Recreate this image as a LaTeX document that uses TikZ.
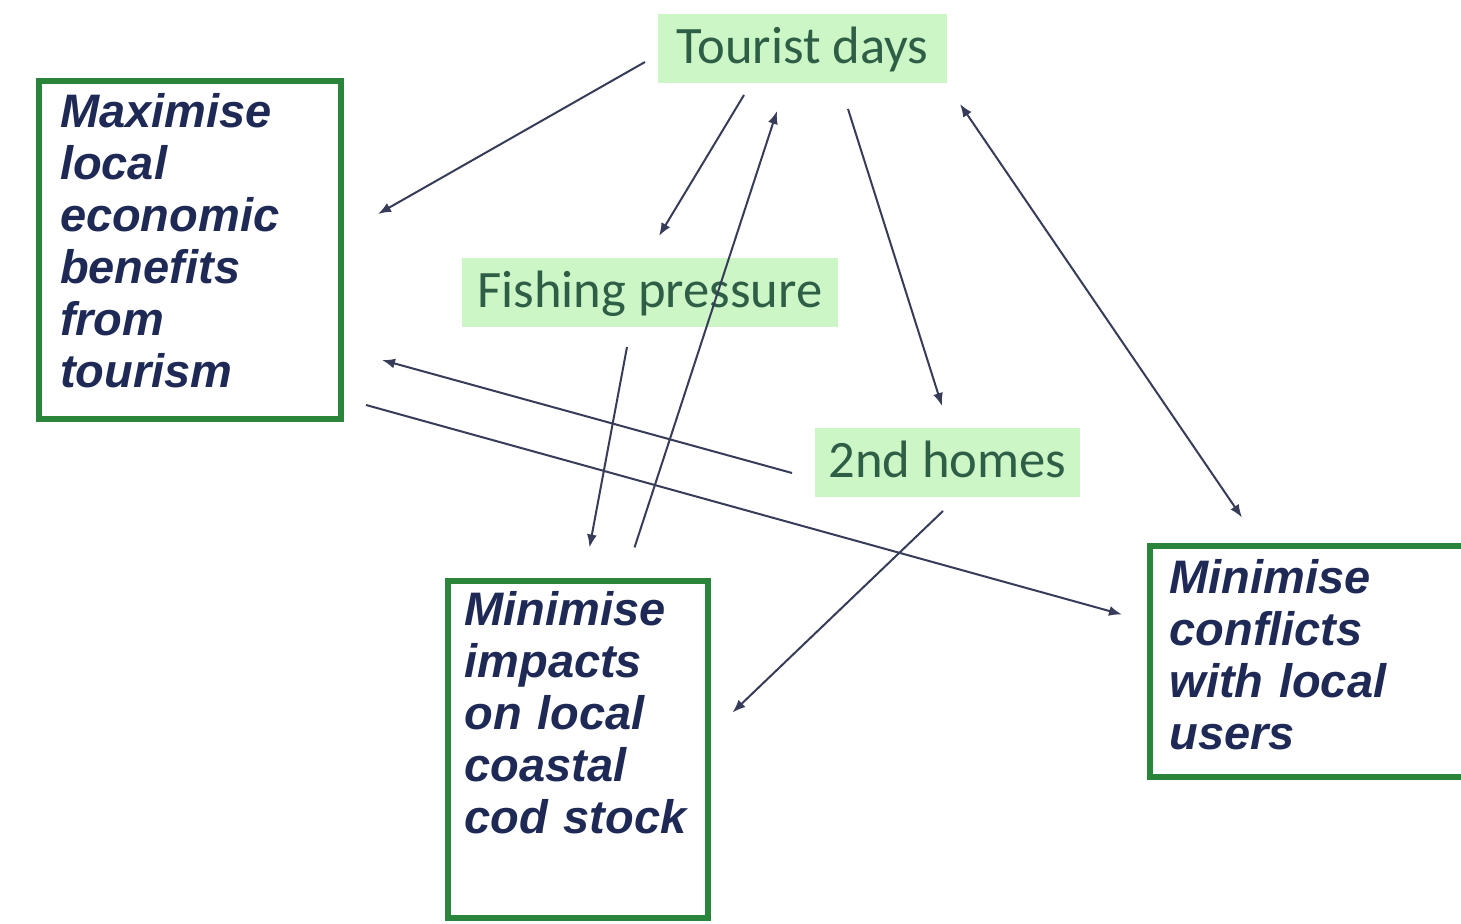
\documentclass[tikz,border=0pt]{standalone}
\usepackage{fontspec}
\setmainfont{Liberation Sans}
\newfontfamily\lblfont{Carlito}
\usetikzlibrary{arrows.meta}
\definecolor{lblfill}{RGB}{204,246,198}
\definecolor{lbltext}{RGB}{46,94,70}
\definecolor{boxline}{RGB}{42,132,58}
\definecolor{boxtext}{RGB}{30,42,85}
\definecolor{arrline}{RGB}{55,60,88}
\tikzset{
  factor/.style={fill=lblfill, text=lbltext, font=\lblfont\fontsize{26.3}{30}\selectfont,
    inner sep=0pt, minimum height=34.5pt, text height=25pt, text depth=9.5pt},
  goal/.style={draw=boxline, line width=3pt, text=boxtext,
    font=\fontsize{23.5}{26}\selectfont\bfseries\itshape,
    inner sep=0pt, align=left, anchor=north west},
  link/.style={draw=arrline, line width=1pt},
  tip/.tip={Latex[length=6.5pt,width=5pt]}
}
\begin{document}
\begin{tikzpicture}[x=0.5pt,y=-0.5pt]
\useasboundingbox (0,0) rectangle (1461,924);
\clip (0,0) rectangle (1461,924);
\fill[white] (0,0) rectangle (1461,924);

% factor labels
\node[factor, minimum width=144.5pt] (td) at (802.5,48.5) {Tourist days};
\node[factor, minimum width=188pt] (fp) at (650,292.5) {Fishing pressure};
\node[factor, minimum width=132.5pt] (hm) at (947.5,462.5) {2nd homes};

% goal boxes
\node[goal, text width=151pt, text height=23.5pt, text depth=145.5pt] (b1) at (36,78)
  {\leftskip=10.5pt\relax Maximise\\local\\economic\\benefits\\from\\tourism\par};
\node[goal, text width=130pt, text height=22.5pt, text depth=146pt] (b2) at (444.5,577.5)
  {\leftskip=8.5pt\relax Minimise\\impacts\\on local\\coastal\\cod stock\par};
\node[goal, text width=163.75pt, text height=23.75pt, text depth=91.75pt] (b3) at (1146.5,543)
  {\leftskip=10pt\relax Minimise\\conflicts\\with local\\users\par};

% connectors
\draw[link,-tip] ([shift={(-157.5,13.5)}]td.center) -- ([shift={(34,-36)}]b1.east);
\draw[link,-tip] ([shift={(-58.5,46.5)}]td.center) -- ([shift={(9,-56.5)}]fp.center);
\draw[link,-tip] ([shift={(57,-201.5)}]b2.center) -- ([shift={(-25.5,62.5)}]td.center);
\draw[link,-tip] ([shift={(45.5,60.5)}]td.center) -- ([shift={(-5.5,-56.5)}]hm.center);
\draw[link,tip-tip] ([shift={(157.5,55.5)}]td.center) -- ([shift={(95.5,-144)}]b3.west);
\draw[link,-tip] ([shift={(-23,54.5)}]fp.center) -- ([shift={(12,-201.5)}]b2.center);
\draw[link,-tip] ([shift={(-155.5,10.5)}]hm.center) -- ([shift={(38,110)}]b1.east);
\draw[link,-tip] ([shift={(22,155)}]b1.east) -- ([shift={(-24.5,-47)}]b3.west);
\draw[link,-tip] ([shift={(-4.5,48.5)}]hm.center) -- ([shift={(155,-36.5)}]b2.center);
\end{tikzpicture}
\end{document}
